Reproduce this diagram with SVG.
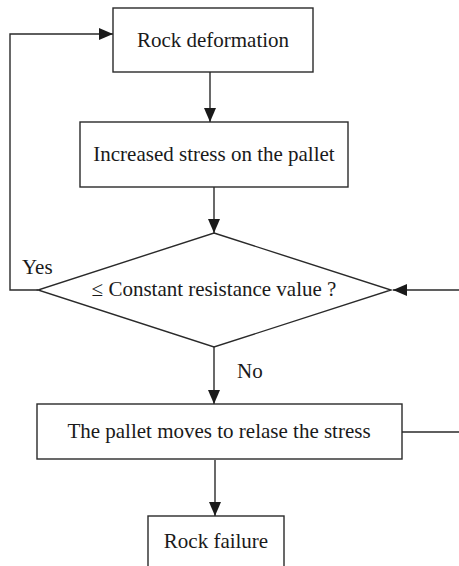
<svg xmlns="http://www.w3.org/2000/svg" width="459" height="566" viewBox="0 0 459 566">
<style>
.box{fill:#fff;stroke:#2a2a2a;stroke-width:1.4}
.t{font-family:"Liberation Serif",serif;font-size:21px;fill:#1a1a1a;text-anchor:middle}
.l{font-family:"Liberation Serif",serif;font-size:21px;fill:#1a1a1a}
.c{fill:none;stroke:#2a2a2a;stroke-width:1.4}
</style>
<defs>
<marker id="ah" markerWidth="14" markerHeight="12" refX="14" refY="6" orient="auto" markerUnits="userSpaceOnUse">
<path d="M0,0 L14,6 L0,12 Z" fill="#1a1a1a"/>
</marker>
</defs>
<rect width="459" height="566" fill="#fff"/>
<g id="connectors">
<path class="c" d="M38,290 H10 V34 H113" marker-end="url(#ah)"/>
<path class="c" d="M210,72 V122" marker-end="url(#ah)"/>
<path class="c" d="M214,187 V233" marker-end="url(#ah)"/>
<path class="c" d="M459,290 H393" marker-end="url(#ah)"/>
<path class="c" d="M214,347 V404" marker-end="url(#ah)"/>
<path class="c" d="M402,432 H459"/>
<path class="c" d="M215,460 V516" marker-end="url(#ah)"/>
<text class="l" x="22" y="274">Yes</text>
<text class="l" x="237" y="378">No</text>
</g>
<g id="n1">
<rect class="box" x="113" y="8" width="200" height="64"/>
<text class="t" x="213" y="47">Rock deformation</text>
</g>
<g id="n2">
<rect class="box" x="80" y="122" width="268" height="65"/>
<text class="t" x="214" y="161">Increased stress on the pallet</text>
</g>
<g id="n3">
<polygon class="box" points="214,233 391,290 214,347 38,290"/>
<text class="t" x="214" y="296">≤ Constant resistance value ?</text>
</g>
<g id="n4">
<rect class="box" x="37" y="404" width="365" height="55"/>
<text class="t" x="219" y="438">The pallet moves to relase the stress</text>
</g>
<g id="n5">
<rect class="box" x="148" y="516" width="136" height="60"/>
<text class="t" x="216" y="548">Rock failure</text>
</g>
</svg>
